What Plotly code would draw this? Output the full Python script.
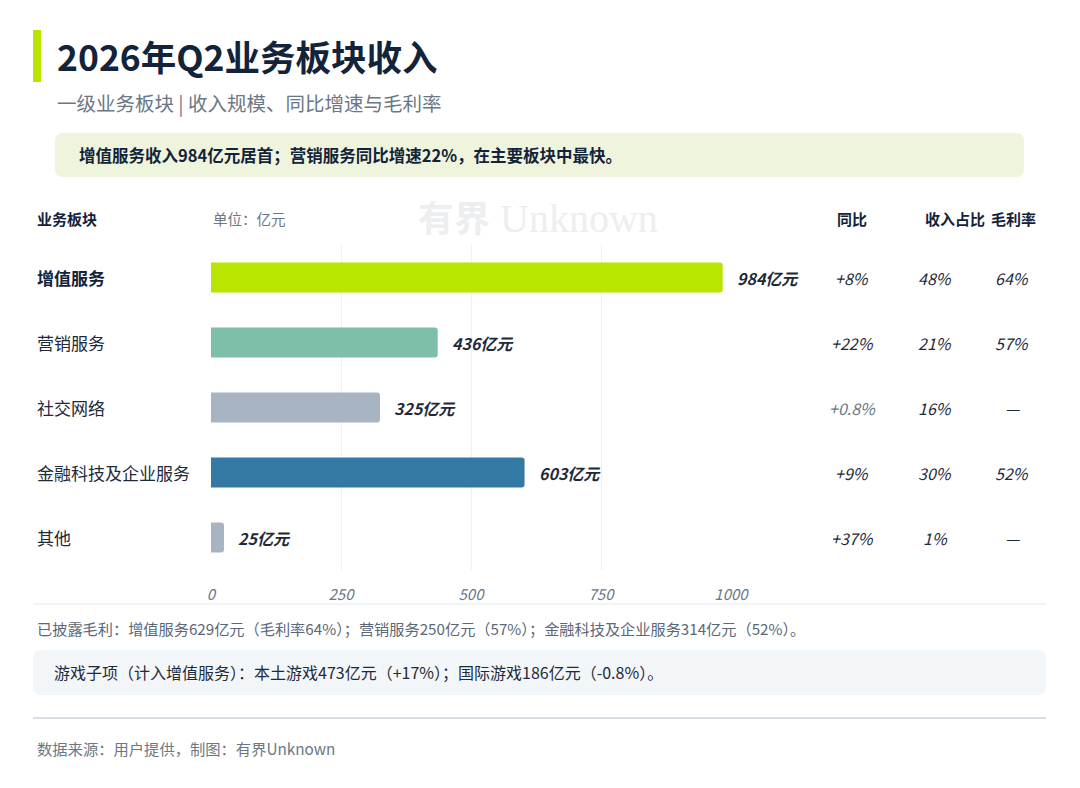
import plotly.graph_objects as go

W, H = 1080, 788

segments = ["增值服务", "营销服务", "社交网络", "金融科技及企业服务", "其他"]
revenue = [984, 436, 325, 603, 25]
yoy = ["+8%", "+22%", "+0.8%", "+9%", "+37%"]
share = ["48%", "21%", "16%", "30%", "1%"]
margin = ["64%", "57%", "—", "52%", "—"]
bar_colors = ["#B8E600", "#7DBFA8", "#A9B4C2", "#3478A4", "#A9B4C2"]
x_ticks = [0, 250, 500, 750, 1000]

title = "2026年Q2业务板块收入"
subtitle = "一级业务板块 | 收入规模、同比增速与毛利率"
highlight = "增值服务收入984亿元居首；营销服务同比增速22%，在主要板块中最快。"
note = "已披露毛利：增值服务629亿元（毛利率64%）；营销服务250亿元（57%）；金融科技及企业服务314亿元（52%）。"
games = "游戏子项（计入增值服务）：本土游戏473亿元（+17%）；国际游戏186亿元（-0.8%）。"
source = "数据来源：用户提供，制图：有界Unknown"

DARK = "#13233A"
TEXT = "#1E2A3A"
GRAY = "#6B7785"
FONT = "Noto Sans CJK SC"


def px(x):
    return x / W


def py(y):
    return 1 - y / H


def rrect(x0, y0, x1, y1, r):
    # rounded rectangle path in paper coords, pixel input
    X0, X1 = px(x0), px(x1)
    Y0, Y1 = py(y0), py(y1)
    rx, ry = r / W, r / H
    return (f"M{X0+rx},{Y0} L{X1-rx},{Y0} Q{X1},{Y0} {X1},{Y0-ry} "
            f"L{X1},{Y1+ry} Q{X1},{Y1} {X1-rx},{Y1} L{X0+rx},{Y1} "
            f"Q{X0},{Y1} {X0},{Y1+ry} L{X0},{Y0-ry} Q{X0},{Y0} {X0+rx},{Y0} Z")


fig = go.Figure()
fig.add_trace(go.Bar(
    x=revenue, y=segments, orientation="h",
    marker=dict(color=bar_colors, line=dict(width=0), cornerradius=3),
    width=0.46, hoverinfo="skip",
))

ann = []


def txt(x, y, s, size, color=TEXT, bold=False, anchor="left", yref="paper", style="normal"):
    ann.append(dict(
        x=px(x), y=py(y) if yref == "paper" else y, xref="paper", yref=yref,
        text=f"<b>{s}</b>" if bold else s, showarrow=False,
        xanchor=anchor, yanchor="middle",
        font=dict(size=size, color=color, family=FONT, style=style),
    ))


# header block
txt(55, 56, title, 35.5, DARK, bold=True)
txt(55, 102, subtitle, 19.5, GRAY)
txt(77, 155, highlight, 16.5, DARK, bold=True)

# table header
txt(35, 218, "业务板块", 15, DARK, bold=True)
txt(211, 218, "单位：亿元", 14.5, GRAY)
txt(852, 218, "同比", 15, DARK, bold=True, anchor="center")
txt(955, 218, "收入占比", 15, DARK, bold=True, anchor="center")
txt(1013, 218, "毛利率", 15, DARK, bold=True, anchor="center")
ann.append(dict(
    x=px(416), y=py(216), xref="paper", yref="paper", xanchor="left", yanchor="middle",
    showarrow=False,
    text="<b>有界</b><span style='font-family:Liberation Serif;font-size:40px'> Unknown</span>",
    font=dict(size=36, color="#ECEEF0", family=FONT),
))

# rows
for i, seg in enumerate(segments):
    txt(35, 0, seg, 17, DARK if i == 0 else TEXT, bold=(i == 0), yref="y")
    ann[-1]["y"] = seg
    ann.append(dict(
        x=revenue[i], y=seg, xref="x", yref="y", xanchor="left", yanchor="middle",
        xshift=12, showarrow=False, text=f"<b>{revenue[i]}亿元</b>",
        font=dict(size=16, color=TEXT, family=FONT, style="italic"),
    ))
    for cx, val in ((852, yoy[i]), (935, share[i]), (1012, margin[i])):
        col = GRAY if val == "+0.8%" else TEXT
        txt(cx, 0, val, 16, col, anchor="center", yref="y", style="italic")
        ann[-1]["y"] = seg

# notes
txt(35, 628, note, 15.2, "#5A6878")
txt(52, 672, games, 16, TEXT)
txt(35, 748, source, 15.3, GRAY)

shapes = [
    dict(type="rect", xref="paper", yref="paper", x0=px(33), x1=px(41), y0=py(82), y1=py(30),
         fillcolor="#B8E600", line=dict(width=0)),
    dict(type="path", xref="paper", yref="paper", path=rrect(55, 133, 1024, 177, 8),
         fillcolor="#EFF5DC", line=dict(width=0), layer="below"),
    dict(type="line", xref="paper", yref="paper", x0=px(33), x1=px(1046), y0=py(604), y1=py(604),
         line=dict(color="#E3E8EE", width=1)),
    dict(type="path", xref="paper", yref="paper", path=rrect(33, 650, 1046, 695, 8),
         fillcolor="#F3F6F9", line=dict(width=0), layer="below"),
    dict(type="line", xref="paper", yref="paper", x0=px(33), x1=px(1046), y0=py(718), y1=py(718),
         line=dict(color="#D8DEE6", width=2)),
]

fig.update_layout(
    width=W, height=H, autosize=False,
    margin=dict(l=0, r=0, t=0, b=0, pad=0),
    paper_bgcolor="white", plot_bgcolor="white",
    showlegend=False,
    font=dict(family=FONT, color=TEXT),
    annotations=ann, shapes=shapes,
    xaxis=dict(
        domain=[px(211), px(731)], range=[0, 1000], automargin=False,
        tickvals=x_ticks, ticktext=[str(t) for t in x_ticks],
        showgrid=True, gridcolor="#EEF1F4", gridwidth=1,
        zeroline=False, showline=False,
        tickfont=dict(size=15, color=GRAY, style="italic"), ticklabelstandoff=14,
        fixedrange=True,
    ),
    yaxis=dict(
        domain=[py(570), py(245)], range=[4.5, -0.5], automargin=False,
        categoryorder="array", categoryarray=segments,
        showticklabels=False, showgrid=False, zeroline=False, fixedrange=True,
    ),
)

fix_page = (
    "document.body.style.margin='0';"
    "document.documentElement.style.overflow='hidden';"
    "document.body.style.overflow='hidden';"
    "var gd=document.getElementById('{plot_id}');"
    "Plotly.relayout(gd,{width:1080,height:788});"
)
fig.write_html("out.html", post_script=fix_page,
               config={"displayModeBar": False, "responsive": False})
